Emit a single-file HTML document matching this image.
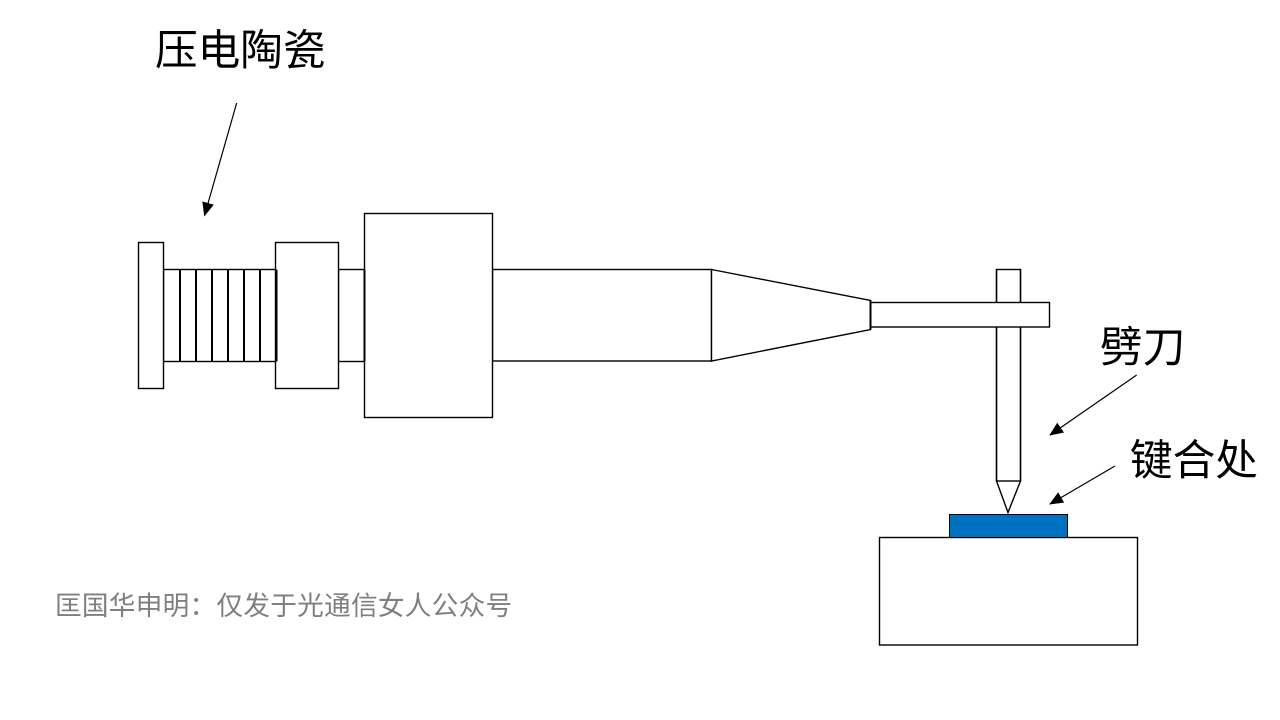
<!DOCTYPE html>
<html>
<head>
<meta charset="utf-8">
<style>
html,body{margin:0;padding:0;background:#fff;}
svg{display:block;}
</style>
</head>
<body>
<svg width="1280" height="720" viewBox="0 0 1280 720" xmlns="http://www.w3.org/2000/svg">
<defs>
<marker id="ah" markerWidth="14" markerHeight="12" refX="13" refY="6" orient="auto" markerUnits="userSpaceOnUse">
<path d="M0,0 L14,6 L0,12 Z" fill="#000"/>
</marker>
</defs>
<rect width="1280" height="720" fill="#fff"/>
<g fill="#fff" stroke="#000" stroke-width="1.4">
  <rect x="163.5" y="269.5" width="113" height="92"/>
  <rect x="138.5" y="242.5" width="25" height="146"/>
  <rect x="338.5" y="269.5" width="26" height="92"/>
  <rect x="275.5" y="242.5" width="63" height="146"/>
  <rect x="492.5" y="269.5" width="219" height="91.5"/>
  <rect x="364.5" y="213.5" width="128" height="204"/>
  <polygon points="711.5,269.5 870.5,300.5 870.5,329.5 711.5,361"/>
  <rect x="996.5" y="269.5" width="24" height="211.5"/>
  <rect x="870.5" y="302.5" width="179" height="24.5"/>
  <polyline points="996.5,481 1008,512.5 1020.5,481" fill="none"/>
  <rect x="879.5" y="537.5" width="258" height="107.5"/>
</g>
<g stroke="#000" stroke-width="1.4">
  <line x1="996.5" y1="269.5" x2="996.5" y2="302.5"/>
  <line x1="1020.5" y1="269.5" x2="1020.5" y2="302.5"/>
  <line x1="996.5" y1="327" x2="996.5" y2="481"/>
  <line x1="1020.5" y1="327" x2="1020.5" y2="481"/>
</g>
<g stroke="#000" stroke-width="2">
  <line x1="180" y1="269.5" x2="180" y2="361.5"/>
  <line x1="196" y1="269.5" x2="196" y2="361.5"/>
  <line x1="212" y1="269.5" x2="212" y2="361.5"/>
  <line x1="228" y1="269.5" x2="228" y2="361.5"/>
  <line x1="244" y1="269.5" x2="244" y2="361.5"/>
  <line x1="260" y1="269.5" x2="260" y2="361.5"/>
  <line x1="276.5" y1="269.5" x2="276.5" y2="361.5"/>
  <line x1="364.5" y1="269.5" x2="364.5" y2="361.5"/>
  <line x1="870.5" y1="300.5" x2="870.5" y2="329.5"/>
</g>
<rect x="949.5" y="514.5" width="118" height="23" fill="#0070C0" stroke="#000" stroke-width="1"/>
<g stroke="#000" stroke-width="1.2" fill="none">
  <line x1="236.7" y1="103" x2="204.5" y2="215.5" marker-end="url(#ah)"/>
  <line x1="1136.7" y1="375" x2="1050" y2="435" marker-end="url(#ah)"/>
  <line x1="1115" y1="466" x2="1050" y2="504" marker-end="url(#ah)"/>
</g>
<g font-family="'Liberation Sans','Noto Sans CJK SC',sans-serif" fill="#000" font-size="42.67">
  <text x="155" y="65">压电陶瓷</text>
  <text x="1100" y="362">劈刀</text>
  <text x="1130" y="475">键合处</text>
</g>
<text x="55" y="615" font-family="'Liberation Sans','Noto Sans CJK SC',sans-serif" font-size="26.67" letter-spacing="0.25" fill="#7f7f7f">匡国华申明：仅发于光通信女人公众号</text>
</svg>
</body>
</html>
